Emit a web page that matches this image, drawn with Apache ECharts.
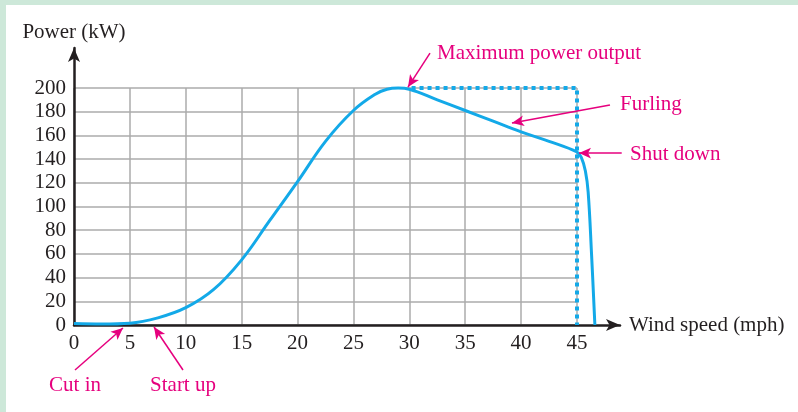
<!DOCTYPE html>
<html><head><meta charset="utf-8">
<script src="https://cdn.jsdelivr.net/npm/echarts@6/dist/echarts.min.js"></script>
<style>html,body{margin:0;padding:0;background:#fff}#c{width:798px;height:412px}</style>
</head><body><div id="c"></div>
<script>
// Power curve data (wind speed mph, power kW)
var windSpeed = [0, 2.5, 5, 7.5, 10, 12.5, 15, 17.5, 20, 22.5, 25, 27, 28, 29, 30, 32.5, 35, 37.5, 40, 42.5, 45, 45.4, 45.75, 46.0, 46.3, 46.6];
var powerKW   = [1.2, 0.8, 1.5, 6, 14.6, 30, 55, 88, 121, 155, 181, 195, 199, 200, 199, 190, 181, 172, 163, 155, 146, 141, 130, 112, 60, 0];
// Rated power envelope (dotted)
var ratedX = [30.2, 45, 45];
var ratedY = [200, 200, 0];
var xTicks = [0, 5, 10, 15, 20, 25, 30, 35, 40, 45];
var yTicks = [0, 20, 40, 60, 80, 100, 120, 140, 160, 180, 200];
// Annotations: label, arrow start [x,y], arrow end [x,y] in data units
var annoNames = ['Cut in', 'Start up', 'Maximum power output', 'Furling', 'Shut down'];
var annoStart = [[0.09, -38], [9.75, -38], [31.85, 229.5], [47.95, 185.7], [49.0, 145.1]];
var annoEnd   = [[4.38, -2.5], [7.16, -1.7], [29.88, 200.8], [39.18, 170.5], [45.18, 145.1]];

var FONT = 'Liberation Serif';
var FS = 21;
var TXT = '#231f20';
var MAG = '#e6007e';
var chart = echarts.init(document.getElementById('c'), null, {renderer: 'canvas'});

var W = 798, H = 412;
var xMax = xTicks[xTicks.length - 1], yMax = yTicks[yTicks.length - 1];
var gridL = 74, gridT = 88, gridW = 503, gridH = 237;
var extTop = 48, extRight = 620;
var pxPerX = gridW / xMax, pxPerY = gridH / yMax;
var x1Max = (extRight - gridL) / pxPerX;
var y1Max = (gridT + gridH - extTop) / pxPerY;
// full-canvas overlay axes with same scale (for annotation arrows)
var x2Min = -gridL / pxPerX, x2Max = (W - gridL) / pxPerX;
var y2Min = -(H - gridT - gridH) / pxPerY, y2Max = (gridT + gridH) / pxPerY;

var curve = windSpeed.map(function (x, i) { return [x, powerKW[i]]; });
var rated = ratedX.map(function (x, i) { return [x, ratedY[i]]; });
var marks = annoNames.map(function (n, i) {
  return [{coord: annoStart[i]}, {coord: annoEnd[i]}];
});

chart.setOption({
  animation: false,
  backgroundColor: '#ffffff',
  grid: [
    {left: gridL, top: gridT, width: gridW, height: gridH},
    {left: gridL, top: extTop, width: extRight - gridL, height: gridT + gridH - extTop},
    {left: 0, top: 0, width: W, height: H}
  ],
  xAxis: [
    {gridIndex: 0, type: 'value', min: 0, max: xMax, interval: 5,
     axisLine: {show: false}, axisTick: {show: false},
     axisLabel: {fontFamily: FONT, fontSize: FS, color: TXT, margin: 8,
       formatter: function (v) { return xTicks.indexOf(v) >= 0 ? String(v) : ''; }},
     splitLine: {show: true, lineStyle: {color: '#ababab', width: 1.5}}},
    {gridIndex: 1, type: 'value', min: 0, max: x1Max,
     axisLine: {show: true, symbol: ['none', 'arrow'], symbolSize: [9, 14], lineStyle: {color: TXT, width: 2.5}},
     axisTick: {show: false}, axisLabel: {show: false}, splitLine: {show: false},
     name: 'Wind speed (mph)', nameLocation: 'end', nameGap: 9,
     nameTextStyle: {fontFamily: FONT, fontSize: FS, color: TXT, verticalAlign: 'middle'}},
    {gridIndex: 2, type: 'value', min: x2Min, max: x2Max, show: false}
  ],
  yAxis: [
    {gridIndex: 0, type: 'value', min: 0, max: yMax, interval: 20,
     axisLine: {show: false}, axisTick: {show: false},
     axisLabel: {fontFamily: FONT, fontSize: FS, color: TXT, margin: 8,
       formatter: function (v) { return yTicks.indexOf(v) >= 0 ? String(v) : ''; }},
     splitLine: {show: true, lineStyle: {color: '#ababab', width: 1.5}}},
    {gridIndex: 1, type: 'value', min: 0, max: y1Max,
     axisLine: {show: true, symbol: ['none', 'arrow'], symbolSize: [9, 14], lineStyle: {color: TXT, width: 2.5}},
     axisTick: {show: false}, axisLabel: {show: false}, splitLine: {show: false},
     name: 'Power (kW)', nameLocation: 'end', nameGap: 5,
     nameTextStyle: {fontFamily: FONT, fontSize: FS, color: TXT, align: 'center'}},
    {gridIndex: 2, type: 'value', min: y2Min, max: y2Max, show: false}
  ],
  series: [
    {type: 'line', xAxisIndex: 1, yAxisIndex: 1, data: rated, showSymbol: false, clip: false,
     lineStyle: {color: '#13a9e8', width: 4, type: [4, 4], cap: 'butt'}, z: 3},
    {type: 'line', xAxisIndex: 1, yAxisIndex: 1, data: curve, showSymbol: false, clip: false,
     smooth: 0.4,
     lineStyle: {color: '#13a9e8', width: 3}, z: 4},
    {type: 'line', xAxisIndex: 2, yAxisIndex: 2, data: [], clip: false, silent: true,
     markLine: {silent: true, symbol: ['none', 'arrow'], symbolSize: [8, 12], precision: 3,
       lineStyle: {color: MAG, width: 1.5, type: 'solid'}, label: {show: false},
       emphasis: {disabled: true}, data: marks}, z: 5}
  ],
  graphic: [
    {type: 'rect', left: 0, top: 0, shape: {width: W, height: 5}, style: {fill: '#cde8d9'}, silent: true},
    {type: 'rect', left: 0, top: 0, shape: {width: 6, height: H}, style: {fill: '#cde8d9'}, silent: true},
    {type: 'text', x: 75, y: 385, style: {text: annoNames[0], font: FS + 'px "Liberation Serif"', fill: MAG, align: 'center', verticalAlign: 'middle'}},
    {type: 'text', x: 183, y: 385, style: {text: annoNames[1], font: FS + 'px "Liberation Serif"', fill: MAG, align: 'center', verticalAlign: 'middle'}},
    {type: 'text', x: 437, y: 53, style: {text: annoNames[2], font: FS + 'px "Liberation Serif"', fill: MAG, align: 'left', verticalAlign: 'middle'}},
    {type: 'text', x: 620, y: 104, style: {text: annoNames[3], font: FS + 'px "Liberation Serif"', fill: MAG, align: 'left', verticalAlign: 'middle'}},
    {type: 'text', x: 630, y: 154, style: {text: annoNames[4], font: FS + 'px "Liberation Serif"', fill: MAG, align: 'left', verticalAlign: 'middle'}}
  ]
});
</script></body></html>
